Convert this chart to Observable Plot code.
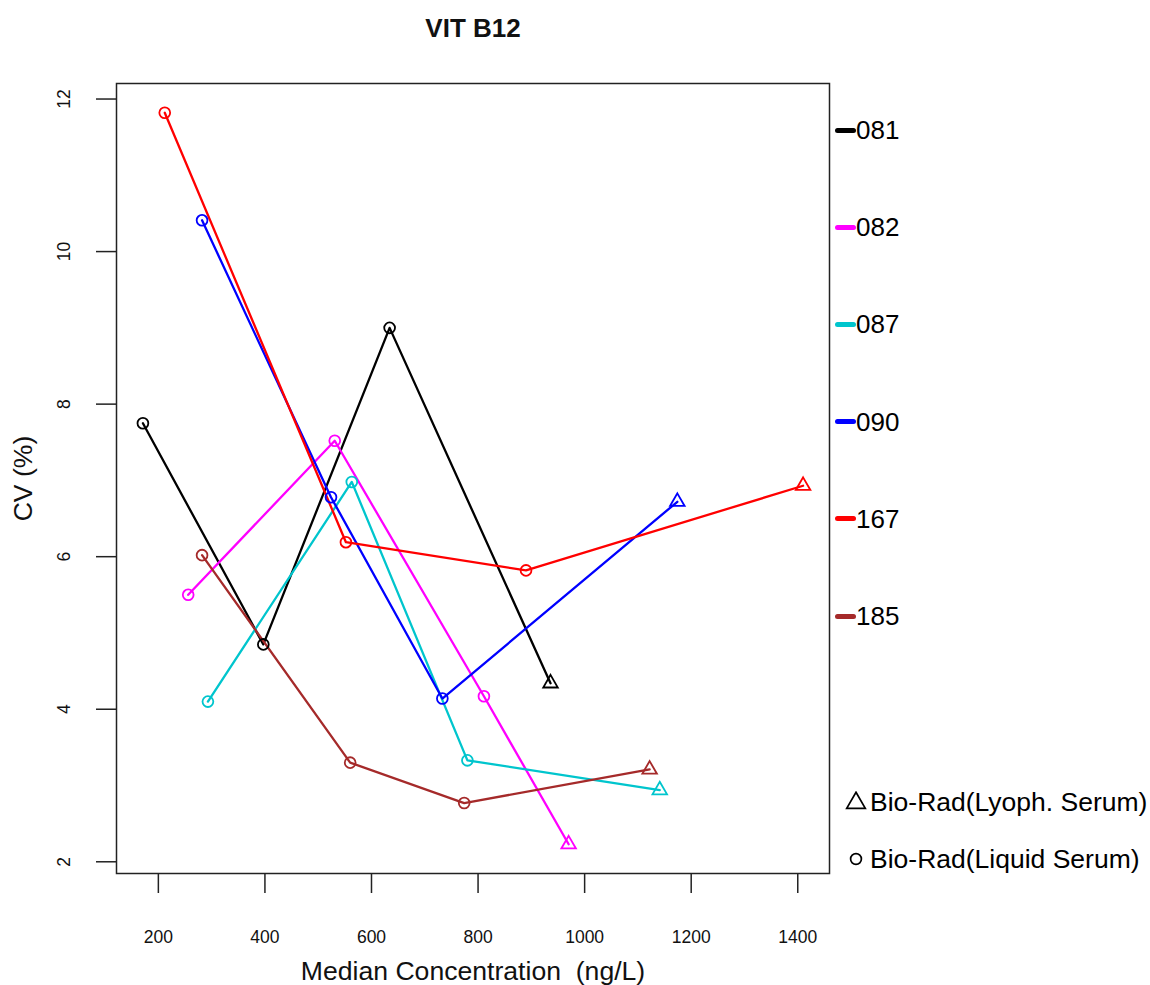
<!DOCTYPE html>
<html>
<head>
<meta charset="utf-8">
<script src="https://cdn.jsdelivr.net/npm/d3@7"></script>
<script src="https://cdn.jsdelivr.net/npm/@observablehq/plot@0.6"></script>
<style>
  body { margin: 0; background: #fff; }
  #wrap { position: relative; width: 1150px; height: 985px; font-family: "Liberation Sans", Arial, sans-serif; }
  .leg { position: absolute; left: 835px; display: flex; align-items: center; font-size: 26px; color: #000; line-height: 1; }
  .leg .sw { width: 21px; height: 5px; border-radius: 2.5px; margin-right: 0px; }
  .shp { position: absolute; left: 844px; display: flex; align-items: center; font-size: 26.5px; line-height: 1; color: #000; }
</style>
</head>
<body>
<div id="wrap"></div>
<script>
// ---- data ----
const labs = ["081", "082", "087", "090", "167", "185"];
const labColors = ["#000000", "#FF00FF", "#00C5CD", "#0000FF", "#FF0000", "#A52A2A"];
const materials = ["Liquid", "Liquid", "Liquid", "Lyoph"]; // order of points in each series
const concentration = [
  [171, 397, 634, 936],
  [256, 531, 811, 970],
  [293, 563, 780, 1141],
  [282, 524, 733, 1174],
  [212, 552, 890, 1410],
  [282, 560, 774, 1122]
];
const cvPercent = [
  [7.75, 4.85, 9.00, 4.34],
  [5.50, 7.52, 4.17, 2.23],
  [4.10, 6.98, 3.33, 2.94],
  [10.41, 6.78, 4.14, 6.72],
  [11.82, 6.19, 5.82, 6.93],
  [6.02, 3.30, 2.77, 3.21]
];
const xTicks = [200, 400, 600, 800, 1000, 1200, 1400];
const yTicks = [2, 4, 6, 8, 10, 12];
const materialLabels = ["Bio-Rad(Lyoph. Serum)", "Bio-Rad(Liquid Serum)"];

// ---- table ----
const rows = labs.flatMap((lab, i) =>
  concentration[i].map((c, j) => ({ lab, x: c, y: cvPercent[i][j], mat: materials[j] }))
);

// R-style 4% axis extension
function rExt(vals) {
  const [a, b] = d3.extent(vals);
  const p = (b - a) * 0.04;
  return [a - p, b + p];
}
const xDom = rExt(rows.map(d => d.x));
const yDom = rExt(rows.map(d => d.y));

const chart = Plot.plot({
  width: 1150,
  height: 985,
  marginLeft: 116,
  marginRight: 321,
  marginTop: 83,
  marginBottom: 112,
  style: { fontFamily: "'Liberation Sans', Arial, sans-serif", background: "transparent", overflow: "visible" },
  x: { domain: xDom },
  y: { domain: yDom },
  color: { domain: labs, range: labColors },
  symbol: { domain: ["Lyoph", "Liquid"], range: [d3.symbolTriangle, d3.symbolCircle] },
  marks: [
    Plot.line(rows, { x: "x", y: "y", z: "lab", stroke: "lab", strokeWidth: 2.3 }),
    Plot.dot(rows, { x: "x", y: "y", stroke: "lab", symbol: "mat", r: 5.4, fill: "none", strokeWidth: 1.8 }),
    Plot.frame({ stroke: "#222", strokeWidth: 1.5 }),
    Plot.axisX({ ticks: xTicks, tickSize: 20, tickPadding: 37, fontSize: 17.5, tickFormat: d => String(d), label: null, stroke: "#222", strokeWidth: 1.5, color: "#111" }),
    Plot.axisY({ ticks: yTicks, tickSize: 20, tickFormat: () => "", label: null, stroke: "#222", strokeWidth: 1.5 }),
    Plot.text(yTicks, { y: d => d, text: d => String(d), frameAnchor: "left", dx: -52, rotate: -90, fontSize: 17.5, textAnchor: "middle", lineAnchor: "middle", fill: "#111" }),
    Plot.text(["Median Concentration\u00a0 (ng/L)"], { frameAnchor: "bottom", dy: 98, fontSize: 26.6, lineAnchor: "middle", fill: "#111" }),
    Plot.text(["CV (%)"], { frameAnchor: "left", dx: -93, rotate: -90, fontSize: 26.6, lineAnchor: "middle", textAnchor: "middle", fill: "#111" }),
    Plot.text(["VIT B12"], { frameAnchor: "top", dy: -55, fontSize: 26, fontWeight: "bold", lineAnchor: "middle", fill: "#111" })
  ]
});

const wrap = document.getElementById("wrap");
chart.style.position = "absolute";
chart.style.left = "0px";
chart.style.top = "0px";
wrap.appendChild(chart);

// ---- legend (lab colours) ----
labs.forEach((lab, i) => {
  const el = document.createElement("div");
  el.className = "leg";
  el.style.top = (130 + i * 97.2 - 13) + "px";
  el.style.height = "26px";
  const sw = document.createElement("span");
  sw.className = "sw";
  sw.style.background = labColors[i];
  const t = document.createElement("span");
  t.textContent = lab;
  el.appendChild(sw);
  el.appendChild(t);
  wrap.appendChild(el);
});

// ---- legend (material shapes) ----
const shapeSvgs = [
  '<svg width="24" height="22" viewBox="-12 -11 24 22"><path d="' + d3.symbol(d3.symbolTriangle, 150)() + '" fill="none" stroke="#000" stroke-width="1.7" transform="translate(0,1)"/></svg>',
  '<svg width="24" height="22" viewBox="-12 -11 24 22"><circle r="5.4" fill="none" stroke="#000" stroke-width="1.7"/></svg>'
];
materialLabels.forEach((lab, i) => {
  const el = document.createElement("div");
  el.className = "shp";
  el.style.top = ([802, 859][i] - 13) + "px";
  el.style.height = "26px";
  el.innerHTML = shapeSvgs[i] + '<span style="margin-left:2px">' + lab + '</span>';
  wrap.appendChild(el);
});
</script>
</body>
</html>
